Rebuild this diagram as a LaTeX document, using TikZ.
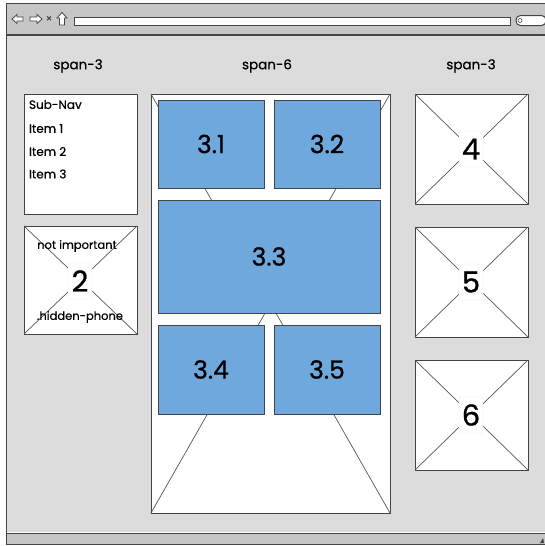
\documentclass[tikz,border=0pt]{standalone}
\usepackage{fontspec}
\setmainfont{Poppins}[FakeBold=0.6]
\newfontfamily\handfont{Poppins}[FakeBold=0.6]
\definecolor{contentgray}{HTML}{DCDCDC}
\definecolor{barGray}{HTML}{C6C6C6}
\definecolor{frameline}{HTML}{444444}
\definecolor{boxblue}{HTML}{6FA8DC}
\definecolor{lineGray}{HTML}{555555}
\begin{document}
\begin{tikzpicture}[x=1pt,y=-1pt,
  every node/.style={outer sep=0pt,inner sep=0pt},
  hand/.style={font=\handfont\addfontfeature{FakeBold=0.6}},
  wbox/.style={draw=frameline,fill=white,line width=0.9pt},
  bluebox/.style={draw=frameline,fill=boxblue,line width=0.8pt,font=\handfont\addfontfeature{FakeBold=0.8}\fontsize{25}{27}\selectfont},
  diag/.style={draw=lineGray,line width=0.7pt},
  digitlabel/.style={fill=white,draw=black!8,rounded corners=2pt,minimum width=24pt,minimum height=36pt,font=\handfont\addfontfeature{FakeBold=0.8}\fontsize{29}{31}\selectfont},
  coltitle/.style={font=\handfont\addfontfeature{FakeBold=0.6}\fontsize{13.5}{15}\selectfont},
  navitem/.style={anchor=west,font=\handfont\addfontfeature{FakeBold=0.6}\fontsize{12}{14}\selectfont},
  smalltext/.style={font=\handfont\addfontfeature{FakeBold=0.5}\fontsize{11.5}{13}\selectfont}
]
\useasboundingbox (0,0) rectangle (544,546);
\fill[white] (0,0) rectangle (544,546);
% window frame
\fill[barGray] (6,3) rectangle (548,35);
\fill[contentgray] (6,35) rectangle (548,533);
\fill[barGray] (6,534) rectangle (548,544);
\draw[frameline,line width=1pt] (548,3) -- (6,3) -- (6,544) -- (548,544);
\draw[frameline,line width=1.2pt] (6,35) -- (548,35);
\draw[frameline,line width=1.2pt] (6,533.5) -- (548,533.5);
\draw[white,line width=0.8pt] (7,532) -- (548,532);
% toolbar icons
\draw[frameline,fill=white,line width=0.8pt] (12,19) -- (17,14.5) -- (17,17) -- (23,17) -- (23,21) -- (17,21) -- (17,23.5) -- cycle;
\draw[frameline,fill=white,line width=0.8pt] (42,19) -- (37,14.5) -- (37,17) -- (30,17) -- (30,21) -- (37,21) -- (37,23.5) -- cycle;
\node[font=\fontsize{10}{11}\selectfont,text=frameline] (closeicon) at (49,19) {×};
\draw[frameline,fill=white,line width=0.8pt] (62,12.5) -- (67,18) -- (64.5,18) -- (64.5,25) -- (59.5,25) -- (59.5,18) -- (57,18) -- cycle;
\node[draw=frameline,fill=white,line width=1pt,minimum width=436pt,minimum height=8pt] (addr) at (292,21) {};
\node[draw=frameline,fill=white,line width=1pt,rounded corners=4.5pt,minimum width=30pt,minimum height=10pt] (search) at (531,20.5) {};
\draw[frameline,line width=0.6pt] (520,20.5) circle (2pt);
\fill[frameline] (540,543) -- (543,538) -- (544,543) -- cycle;
% column titles
\node[coltitle] (t1) at (78,66) {span-3};
\node[coltitle] (t2) at (267,66) {span-6};
\node[coltitle] (t3) at (471,66) {span-3};
% left column
\node[wbox,minimum width=113pt,minimum height=120pt] (subnav) at (80.5,154) {};
\node[navitem] (n0) at (29,104.5) {Sub-Nav};
\node[navitem] (n1) at (29,128.5) {Item 1};
\node[navitem] (n2) at (29,151.5) {Item 2};
\node[navitem] (n3) at (29,174) {Item 3};
\node[wbox,minimum width=113pt,minimum height=108pt] (b2) at (80.5,280) {};
\draw[diag] (b2.north west) -- (b2.south east) (b2.north east) -- (b2.south west);
\node[digitlabel] (l2) at (80,281) {2};
\node[smalltext] (ni) at (77,246) {not important};
\node[smalltext] (hp) at (80,317) {.hidden-phone};
% center column
\node[wbox,minimum width=239pt,minimum height=419pt] (outer) at (270.5,303.5) {};
\draw[diag] (outer.north west) -- (outer.south east) (outer.north east) -- (outer.south west);
\node[bluebox,minimum width=106pt,minimum height=88pt] (b31) at (211,144) {3.1};
\node[bluebox,minimum width=106pt,minimum height=88pt] (b32) at (327,144) {3.2};
\node[bluebox,minimum width=222pt,minimum height=113pt] (b33) at (269,256.5) {3.3};
\node[bluebox,minimum width=106pt,minimum height=89pt] (b34) at (211,369.5) {3.4};
\node[bluebox,minimum width=106pt,minimum height=89pt] (b35) at (327,369.5) {3.5};
% right column
\foreach \nm/\cy/\lab in {b4/149/4,b5/282/5,b6/415/6}{
  \node[wbox,minimum width=113pt,minimum height=110pt] (\nm) at (471.5,\cy) {};
  \draw[diag] (\nm.north west) -- (\nm.south east) (\nm.north east) -- (\nm.south west);
  \node[digitlabel] (l\nm) at (471,\cy) {\lab};
}
\end{tikzpicture}
\end{document}
